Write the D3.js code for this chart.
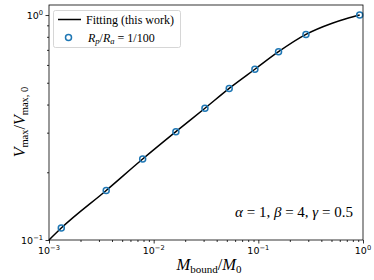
<!DOCTYPE html>
<html>
<head>
<meta charset="utf-8">
<script src="https://cdn.jsdelivr.net/npm/d3@7"></script>
<style>
  body { margin: 0; background: #fff; }
  svg { display: block; }
</style>
</head>
<body>
<div id="chart"></div>
<script>
// values
var pointX = [0.00131, 0.00352, 0.00785, 0.0163, 0.0309, 0.0527, 0.0927, 0.156, 0.285, 0.93];
var pointY = [0.113, 0.166, 0.229, 0.303, 0.385, 0.472, 0.574, 0.687, 0.82, 1.0];

var fitX = [0.001, 0.00131, 0.00352, 0.00785, 0.0163, 0.0309, 0.0527, 0.0927, 0.156, 0.285, 0.5, 0.7, 0.93];
var fitY = [0.1, 0.113, 0.166, 0.229, 0.303, 0.385, 0.472, 0.574, 0.687, 0.82, 0.917, 0.965, 1.0];

var xMajor = [1e-3, 1e-2, 1e-1, 1];
var xMajorExp = ["-3", "-2", "-1", "0"];
var yMajor = [0.1, 1];
var yMajorExp = ["-1", "0"];

var svgWidth = 374;
var svgHeight = 280;
var margin = { top: 5, right: 11, bottom: 40, left: 49 };
var width = svgWidth - margin.left - margin.right;
var height = svgHeight - margin.top - margin.bottom;

var svg = d3.select("#chart")
    .append("svg")
    .attr("width", svgWidth)
    .attr("height", svgHeight);

var chartGroup = svg.append("g")
    .attr("transform", `translate(${margin.left}, ${margin.top})`);

var xScale = d3.scaleLog()
    .domain([1e-3, 1])
    .range([0, width]);

var yScale = d3.scaleLog()
    .domain([0.1, 1.108])
    .range([height, 0]);

// minor ticks 2..9 in each decade
var xMinor = [];
[1e-3, 1e-2, 1e-1].forEach(function (d) {
    for (var k = 2; k < 10; k++) xMinor.push(d * k);
});
var yMinor = [];
for (var k = 2; k < 10; k++) yMinor.push(0.1 * k);

function styleAxis(g) {
    g.select(".domain").remove();
    g.selectAll("line").attr("stroke", "#000").attr("stroke-width", 0.8);
}

chartGroup.append("g")
    .attr("transform", `translate(0, ${height})`)
    .call(d3.axisBottom(xScale).tickValues(xMinor).tickSize(2).tickFormat(""))
    .call(styleAxis);

chartGroup.append("g")
    .attr("transform", `translate(0, ${height})`)
    .call(d3.axisBottom(xScale).tickValues(xMajor).tickSize(3.5).tickFormat(""))
    .call(styleAxis);

chartGroup.append("g")
    .call(d3.axisLeft(yScale).tickValues(yMinor).tickSize(2).tickFormat(""))
    .call(styleAxis);

chartGroup.append("g")
    .call(d3.axisLeft(yScale).tickValues(yMajor).tickSize(3.5).tickFormat(""))
    .call(styleAxis);

// tick labels like 10^-3
function powerLabel(g, x, y, exp, anchor) {
    var t = g.append("text")
        .attr("x", x)
        .attr("y", y)
        .attr("text-anchor", anchor)
        .attr("font-family", "DejaVu Sans")
        .attr("font-size", "9.5px")
        .attr("fill", "#000");
    t.append("tspan").text("10");
    t.append("tspan")
        .attr("dy", -4)
        .attr("font-size", "6.7px")
        .text(exp.replace("-", "\u2212"));
}

xMajor.forEach(function (d, i) {
    powerLabel(chartGroup, xScale(d), height + 14, xMajorExp[i], "middle");
});
yMajor.forEach(function (d, i) {
    powerLabel(chartGroup, -6, yScale(d) + 3.5, yMajorExp[i], "end");
});

// fitting curve
var line = d3.line()
    .x(d => xScale(d[0]))
    .y(d => yScale(d[1]))
    .curve(d3.curveMonotoneX);

chartGroup.append("path")
    .datum(d3.zip(fitX, fitY))
    .attr("d", line)
    .attr("fill", "none")
    .attr("stroke", "#000")
    .attr("stroke-width", 1.5);

chartGroup.selectAll("circle.pt")
    .data(d3.zip(pointX, pointY))
    .enter()
    .append("circle")
    .attr("class", "pt")
    .attr("cx", d => xScale(d[0]))
    .attr("cy", d => yScale(d[1]))
    .attr("r", 3)
    .attr("fill", "none")
    .attr("stroke", "#1f77b4")
    .attr("stroke-width", 1.5);

// frame
chartGroup.append("rect")
    .attr("x", 0)
    .attr("y", 0)
    .attr("width", width)
    .attr("height", height)
    .attr("fill", "none")
    .attr("stroke", "#000")
    .attr("stroke-width", 0.8);

// legend
var serif = "Liberation Serif";
var legend = svg.append("g");
legend.append("rect")
    .attr("x", 53.5)
    .attr("y", 10.5)
    .attr("width", 127)
    .attr("height", 37)
    .attr("rx", 2)
    .attr("fill", "#fff")
    .attr("fill-opacity", 0.8)
    .attr("stroke", "#ccc")
    .attr("stroke-width", 0.8);
legend.append("line")
    .attr("x1", 58).attr("x2", 81)
    .attr("y1", 19.5).attr("y2", 19.5)
    .attr("stroke", "#000")
    .attr("stroke-width", 1.5);
legend.append("text")
    .attr("x", 86)
    .attr("y", 23.5)
    .attr("font-family", serif)
    .attr("font-size", "12px")
    .text("Fitting (this work)");
legend.append("circle")
    .attr("cx", 68.5)
    .attr("cy", 37.5)
    .attr("r", 3)
    .attr("fill", "none")
    .attr("stroke", "#1f77b4")
    .attr("stroke-width", 1.5);
var leg2 = legend.append("text")
    .attr("x", 88)
    .attr("y", 41.5)
    .attr("font-family", serif)
    .attr("font-size", "12px");
leg2.append("tspan").attr("font-style", "italic").text("R");
leg2.append("tspan").attr("font-style", "italic").attr("font-size", "8.5px").attr("dy", 2).text("p");
leg2.append("tspan").attr("dy", -2).text("/");
leg2.append("tspan").attr("font-style", "italic").text("R");
leg2.append("tspan").attr("font-style", "italic").attr("font-size", "8.5px").attr("dy", 2).text("a");
leg2.append("tspan").attr("dy", -2).text(" = 1/100");

// parameter note
var note = svg.append("text")
    .attr("x", 353)
    .attr("y", 216.5)
    .attr("text-anchor", "end")
    .attr("font-family", serif)
    .attr("font-size", "15px");
note.append("tspan").attr("font-style", "italic").text("\u03b1");
note.append("tspan").text(" = 1, ");
note.append("tspan").attr("font-style", "italic").text("\u03b2");
note.append("tspan").text(" = 4, ");
note.append("tspan").attr("font-style", "italic").text("\u03b3");
note.append("tspan").text(" = 0.5");

// axis labels
var xLabel = svg.append("text")
    .attr("x", 209)
    .attr("y", 270)
    .attr("text-anchor", "middle")
    .attr("font-family", serif)
    .attr("font-size", "16.5px");
xLabel.append("tspan").attr("font-style", "italic").text("M");
xLabel.append("tspan").attr("font-size", "11px").attr("dy", 3).text("bound");
xLabel.append("tspan").attr("dy", -3).text("/");
xLabel.append("tspan").attr("font-style", "italic").text("M");
xLabel.append("tspan").attr("font-size", "11px").attr("dy", 3).text("0");

var yLabel = svg.append("text")
    .attr("transform", "translate(25, 122) rotate(-90)")
    .attr("text-anchor", "middle")
    .attr("font-family", serif)
    .attr("font-size", "16px");
yLabel.append("tspan").attr("font-style", "italic").text("V");
yLabel.append("tspan").attr("font-size", "10.5px").attr("dy", 3).text("max");
yLabel.append("tspan").attr("dy", -3).text("/");
yLabel.append("tspan").attr("font-style", "italic").text("V");
yLabel.append("tspan").attr("font-size", "10.5px").attr("dy", 3).text("max, 0");
</script>
</body>
</html>
